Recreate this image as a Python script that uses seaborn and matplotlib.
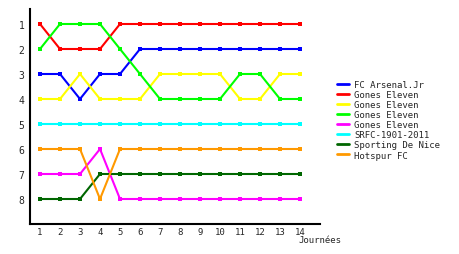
import matplotlib
matplotlib.use("Agg")
import matplotlib.pyplot as plt
import seaborn as sns
import pandas as pd
from matplotlib.lines import Line2D

sns.set_style("white")
plt.rcParams['font.family'] = ['DejaVu Sans Mono', 'DejaVu Sans']

journees = list(range(1, 15))
teams = ["FC Arsenal.Jr", "Gones Eleven", "Gones Eleven", "Gones Eleven",
         "Gones Eleven", "SRFC-1901-2011", "Sporting De Nice", "Hotspur FC"]
colors = ["#0000ff", "#ff0000", "#ffff00", "#00ff00",
          "#ff00ff", "#00ffff", "#006600", "#ff9900"]
arsenal = [3, 3, 4, 3, 3, 2, 2, 2, 2, 2, 2, 2, 2, 2]
gones_red = [1, 2, 2, 2, 1, 1, 1, 1, 1, 1, 1, 1, 1, 1]
gones_yellow = [4, 4, 3, 4, 4, 4, 3, 3, 3, 3, 4, 4, 3, 3]
gones_green = [2, 1, 1, 1, 2, 3, 4, 4, 4, 4, 3, 3, 4, 4]
gones_magenta = [7, 7, 7, 6, 8, 8, 8, 8, 8, 8, 8, 8, 8, 8]
srfc = [5, 5, 5, 5, 5, 5, 5, 5, 5, 5, 5, 5, 5, 5]
sporting = [8, 8, 8, 7, 7, 7, 7, 7, 7, 7, 7, 7, 7, 7]
hotspur = [6, 6, 6, 8, 6, 6, 6, 6, 6, 6, 6, 6, 6, 6]
series = [arsenal, gones_red, gones_yellow, gones_green,
          gones_magenta, srfc, sporting, hotspur]

fig = plt.figure(figsize=(4.6, 2.55), dpi=100)
ax = fig.add_axes([30 / 460, 1 - 225 / 255, 290 / 460, 215 / 255])

for name, col, vals in zip(teams, colors, series):
    df = pd.DataFrame({"j": journees, "rang": vals})
    sns.lineplot(data=df, x="j", y="rang", ax=ax, color=col, linewidth=1.5,
                 marker="s", markersize=2.5, markeredgewidth=0, label=name)

ax.set_xlim(0.5, 15)
ax.set_ylim(9.0, 0.4)
ax.set_xticks(journees)
ax.set_yticks(range(1, 9))
ax.tick_params(axis='x', length=2, width=1, direction='out', labelsize=6.5, pad=0.5, color='black')
ax.tick_params(axis='y', length=0, labelsize=7, pad=4)
for s in ["top", "right"]:
    ax.spines[s].set_visible(False)
for s in ["left", "bottom"]:
    ax.spines[s].set_color("black")
    ax.spines[s].set_linewidth(1.5)
ax.set_xlabel("")
ax.set_ylabel("")
ax.grid(False)

ax.get_legend().remove()
hs = [Line2D([], [], color=c, linewidth=2) for c in colors]
fig.legend(hs, teams, loc="upper left", bbox_to_anchor=(337 / 460, 1 - 81 / 255),
           frameon=False, fontsize=6.5, handlelength=1.3, handletextpad=0.6,
           labelspacing=0.12, borderpad=0, borderaxespad=0)

fig.text(298 / 460, 1 - 241 / 255, "Journées", fontsize=6.5, va="center", ha="left")

fig.savefig("out.png", dpi=100, facecolor="white")
